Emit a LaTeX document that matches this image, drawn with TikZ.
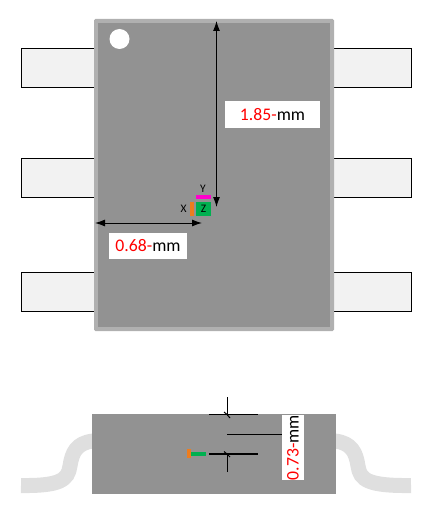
\documentclass[tikz,border=0pt]{standalone}
\usepackage{fontspec}
\setmainfont{Carlito}
\usetikzlibrary{arrows.meta}
\definecolor{bodygrey}{HTML}{929292}
\definecolor{rimgrey}{HTML}{B0B0B0}
\definecolor{leadfill}{HTML}{F2F2F2}
\definecolor{leadgrey}{HTML}{DFDFDF}
\definecolor{markorange}{HTML}{ED7D1F}
\definecolor{markgreen}{HTML}{00B050}
\definecolor{markmagenta}{HTML}{FF00CC}
\tikzset{
  px/.style={x=1pt,y=-1pt},
  pin/.style={draw=black,line width=1pt,fill=leadfill},
  dimarrow/.style={draw=black,line width=1pt,{Latex[length=10pt,width=7pt]}-{Latex[length=10pt,width=7pt]}},
  dimbox/.style={fill=white,inner sep=0pt,font=\fontsize{17.7}{18}\selectfont},
  axislabel/.style={font=\fontsize{11.5}{12}\selectfont,text=black,inner sep=0pt},
  dimline/.style={draw=black,line width=1.2pt},
  thinline/.style={draw=black,line width=1pt},
  leadside/.style={draw=leadgrey,line width=15pt}
}
\begin{document}
\begin{tikzpicture}[px]
\useasboundingbox (0,0) rectangle (428,516);
% top view pins
\foreach \y in {49,158,272}{
  \draw[pin] (21,\y) rectangle (95,\y+39);
  \draw[pin] (333,\y) rectangle (411,\y+39);
}
% top view body
\fill[rimgrey,rounded corners=1.5pt] (94,19) rectangle (334,331);
\fill[bodygrey] (98,23) rectangle (330,327);
\fill[white] (119.5,39) circle (10);
% dimension end points
\coordinate (vtop) at (216.5,21);
\coordinate (vbot) at (216.5,207);
\coordinate (hleft) at (95,223);
\coordinate (hright) at (202,223);
\draw[dimarrow] (vtop) -- (vbot);
\draw[dimarrow] (hleft) -- (hright);
\node[dimbox,minimum width=95pt,minimum height=27pt] (toplabel) at (272.5,114.5) {\textcolor{red}{1.85-}mm};
\node[dimbox,minimum width=78pt,minimum height=26pt] (leftlabel) at (148,246) {\textcolor{red}{0.68-}mm};
% axis markers
\fill[markmagenta] (196,195) rectangle (211,199);
\fill[markgreen] (196,202) rectangle (211,216);
\fill[markorange] (190,202) rectangle (194,216);
\node[axislabel] (ylabel) at (203,189) {Y};
\node[axislabel] (xlabel) at (183.5,208.5) {X};
\node[axislabel] (zlabel) at (203.5,209) {Z};
% side view leads
\draw[leadside] (93,441) .. controls (76,443) and (72,453) .. (70,466) .. controls (68,480) and (60,486) .. (21,485.5);
\draw[leadside] (335,441) .. controls (352,443) and (356,453) .. (358,466) .. controls (360,480) and (368,486) .. (411,485.5);
% side view body
\fill[bodygrey] (92,414) rectangle (336,494);
% side view dimension
\coordinate (ta) at (209,414.5);
\coordinate (tb) at (258,414.5);
\coordinate (ba) at (209,454);
\coordinate (bb) at (258,454);
\coordinate (va) at (227,397);
\coordinate (vat) at (227,414.5);
\coordinate (vb) at (227,472);
\coordinate (vbt) at (227,454);
\coordinate (mid) at (227,434);
\draw[dimline] (ta) -- (tb);
\draw[dimline] (ba) -- (bb);
\draw[thinline] (va) -- (vat);
\draw[thinline] (vb) -- (vbt);
\draw[thinline] (224,412) -- (vat) -- (230,418);
\draw[thinline] (224,451.5) -- (vbt) -- (230,457);
\node[dimbox,rotate=90,minimum width=65pt,minimum height=22pt] (sidelabel) at (293,447.5) {\textcolor{red}{0.73-}mm};
\draw[thinline] (mid) -- (mid -| sidelabel.north);
% side view markers
\fill[markgreen] (191,452.4) rectangle (206,456);
\fill[markorange] (187,449) rectangle (191,458);
\end{tikzpicture}
\end{document}
